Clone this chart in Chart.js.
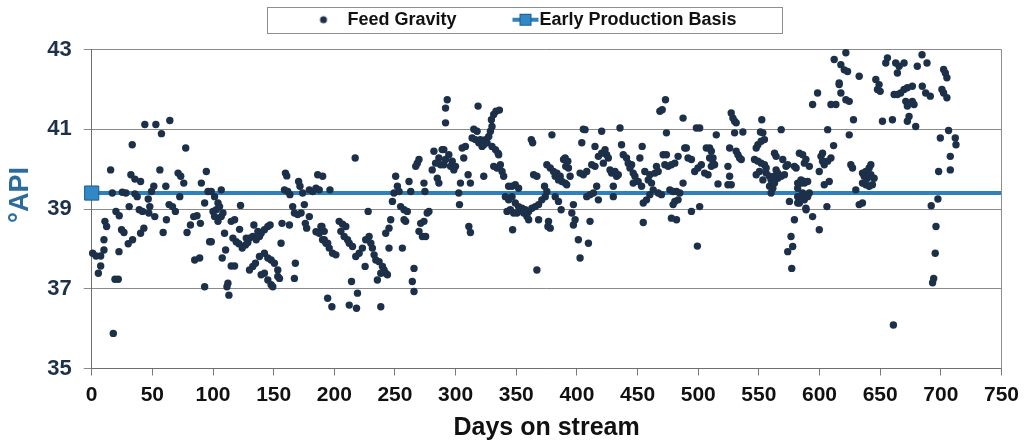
<!DOCTYPE html>
<html>
<head>
<meta charset="utf-8">
<script src="https://cdn.jsdelivr.net/npm/chart.js@4.4.1/dist/chart.umd.min.js"></script>
<style>
  html, body { margin: 0; padding: 0; background: #fff; }
  #wrap { width: 1026px; height: 445px; }
</style>
</head>
<body>
<div id="wrap"><canvas id="gravityChart" width="1026" height="445"></canvas></div>
<script>
// Feed gravity (°API), [day, value] pairs, by period
const feedDays0to100 = [
  [0.8,37.89],[3.6,37.82],[7.4,37.82],[5.5,37.39],[7.4,37.57],[10.1,37.97],[10.1,38.23],[10.9,38.69],[12.3,38.56],
  [15.6,39.98],[17.0,39.40],[17.8,35.88],[19.2,37.24],[21.9,37.24],[20.0,38.94],[22.7,38.83],[22.5,37.93],[24.6,38.48],
  [26.6,38.41],[25.2,39.42],[28.2,39.40],[30.1,38.13],[33.7,38.23],[30.9,39.06],[32.3,39.86],[35.6,39.75],[40.3,39.69],
  [33.4,40.61],[35.6,39.38],[37.5,39.31],[39.2,38.98],[41.9,38.94],[40.3,38.39],[43.0,38.52],[43.8,41.12],[52.9,41.12],
  [57.5,40.89],[46.6,39.25],[49.3,39.44],[51.2,39.57],[47.9,39.06],[47.1,38.90],[52.0,38.81],[56.2,39.98],[58.9,38.41],
  [61.1,39.57],[61.6,38.73],[63.8,39.11],[66.6,39.06],[69.0,38.94],[64.4,41.22],[71.2,39.90],[73.4,39.82],[75.9,39.65],
  [72.6,39.31],[77.5,40.53],[78.6,38.41],[81.4,38.60],[84.1,38.81],[86.8,38.83],[89.6,38.64],[84.9,37.72],[89.0,37.77],
  [90.4,39.65],[93.1,37.05],[94.5,39.94],[95.9,39.44],[93.1,39.15],[97.2,38.18]
];
const feedDays100to200 = [
  [98.6,39.44],[101.3,39.31],[106.8,39.48],[100.0,38.94],[102.7,38.98],[104.1,39.15],[105.4,39.06],[101.3,38.81],
  [104.1,38.69],[106.8,38.81],[108.2,38.90],[98.6,38.18],[109.5,38.39],[107.6,37.77],[110.4,37.97],[115.0,37.57],
  [117.8,37.57],[112.3,37.14],[111.5,37.05],[113.1,36.84],[115.0,38.69],[117.8,38.73],[116.4,38.27],[119.1,38.18],
  [121.3,38.13],[122.7,39.09],[121.9,38.49],[124.1,38.02],[126.8,38.10],[128.7,38.16],[130.1,37.47],[132.8,37.56],
  [135.0,37.64],[127.4,38.27],[130.1,38.27],[132.8,38.31],[135.6,38.23],[138.3,38.31],[133.7,38.60],[137.0,38.44],
  [139.7,38.39],[142.4,38.48],[145.2,38.56],[147.1,38.60],[138.3,37.81],[142.4,37.89],[145.2,37.77],[147.9,37.72],
  [150.6,37.64],[153.4,37.47],[139.7,37.35],[142.4,37.39],[145.2,37.22],[147.9,37.10],[149.3,37.05],[153.4,37.31],
  [154.8,37.26],[156.1,38.14],[156.9,38.64],[163.0,38.60],[159.7,39.90],[160.8,39.83],[158.9,39.48],[161.6,39.44],
  [163.4,39.36],[165.7,39.06],[167.1,38.90],[169.8,38.86],[172.6,38.90],[170.6,39.69],[171.7,39.57],[173.9,39.40],
  [175.3,39.11],[176.1,38.64],[177.2,38.52],[179.4,38.81],[167.9,37.64],[167.1,37.26],[179.4,39.48],[182.2,39.44],
  [184.9,39.52],[187.6,39.48],[186.3,39.86],[190.4,39.82],[184.9,38.43],[187.6,38.39],[189.8,38.56],[191.7,38.23],
  [194.5,38.14],[194.5,36.76]
];
const feedDays200to300 = [
  [196.4,39.48],[189.0,38.56],[191.7,38.44],[190.3,38.23],[193.1,38.14],[195.8,38.02],[198.6,37.89],[201.3,37.85],
  [198.0,36.55],[204.0,38.69],[206.8,38.62],[209.5,38.56],[205.4,38.44],[208.1,38.31],[210.9,38.23],[212.3,38.14],
  [215.0,38.06],[217.2,40.28],[217.7,37.81],[220.5,37.89],[223.2,38.02],[225.9,38.23],[228.7,38.31],[230.1,38.14],
  [231.4,38.02],[232.8,37.85],[234.2,37.72],[236.9,37.68],[239.7,37.56],[241.0,37.47],[242.4,37.39],[243.8,37.35],
  [238.3,37.39],[235.5,37.22],[225.4,37.56],[214.2,37.18],[219.1,36.89],[212.3,36.59],[218.3,36.51],[238.3,36.55],
  [227.9,38.94],[242.4,38.39],[245.1,38.52],[246.5,38.73],[245.1,38.02],[247.9,39.19],[249.2,39.40],[252.0,39.57],
  [253.4,39.44],[250.6,39.82],[254.7,39.06],[257.5,38.98],[260.2,38.94],[258.8,38.69],[257.5,38.73],[256.1,38.02],
  [261.6,39.69],[263.0,39.44],[265.7,37.51],[264.3,37.18],[265.7,36.93],[267.1,40.07],[268.4,40.15],[269.8,40.24],
  [269.8,38.44],[272.6,38.31],[275.3,38.31],[271.2,38.64],[273.9,38.69],[276.6,38.90],[278.0,38.94],[273.9,39.65],
  [274.7,39.44],[280.7,39.98],[283.5,40.15],[286.2,40.28],[284.9,39.77],[282.1,40.45],[287.6,40.11],[290.3,40.49],
  [291.7,41.16],[291.7,41.53],[293.1,41.74]
];
const feedDays300to400 = [
  [288.9,40.49],[291.7,40.24],[294.4,40.36],[297.2,40.20],[298.5,39.98],[299.9,40.07],[295.8,40.07],[290.3,40.11],
  [286.2,39.65],[302.6,39.40],[304.0,39.65],[303.2,39.11],[305.4,40.53],[308.1,40.57],[306.7,40.28],[310.3,39.86],
  [312.2,39.65],[310.9,38.56],[312.2,38.41],[315.0,41.00],[317.7,40.95],[313.6,40.78],[316.3,40.74],[319.1,40.66],
  [320.4,40.74],[321.8,40.57],[323.2,40.61],[318.5,41.58],[323.2,39.82],[324.6,40.74],[327.3,40.82],[328.7,40.95],
  [330.0,41.07],[329.5,41.24],[331.4,41.37],[333.3,41.45],[336.1,41.48],[325.9,40.66],[330.0,40.57],[332.8,40.49],
  [335.0,40.40],[331.4,40.07],[334.1,40.03],[336.9,40.11],[338.3,39.94],[339.6,39.82],[335.5,40.36],[343.7,39.57],
  [346.5,39.57],[349.2,39.61],[351.9,39.52],[341.0,39.31],[343.7,39.23],[346.5,39.31],[349.2,39.15],[351.9,39.06],
  [354.7,39.02],[357.4,38.98],[360.2,38.94],[362.9,39.02],[365.7,39.06],[368.4,39.11],[371.1,39.23],[342.4,38.94],
  [345.1,38.98],[347.8,38.90],[350.6,38.90],[353.3,38.98],[356.1,38.90],[358.8,38.81],[360.2,38.73],[347.0,38.48],
  [362.4,40.74],[363.5,40.66],[364.3,39.86],[367.0,39.82],[368.4,38.73],[376.6,38.69],[378.0,38.52],[376.1,38.56],
  [367.0,37.47],[373.3,39.57],[375.2,39.44],[373.9,39.31],[379.4,40.86],[375.2,40.11],[378.0,40.03],[380.7,39.94],
  [383.5,39.90],[386.2,39.82],[382.1,39.82],[384.8,39.73],[387.6,39.69],[390.3,39.65],[389.0,40.24],[382.1,39.31],
  [384.8,39.19],[387.0,38.98]
];
const feedDays400to500 = [
  [390.3,40.28],[392.5,40.20],[390.8,40.07],[393.0,40.03],[394.4,39.82],[391.6,39.61],[397.1,39.11],[395.8,38.90],
  [398.5,38.73],[397.1,38.60],[401.2,38.23],[409.5,38.14],[402.6,37.77],[410.8,38.69],[404.0,40.66],[405.3,41.00],
  [406.7,40.99],[402.6,39.90],[405.3,39.86],[408.1,39.94],[408.1,39.31],[410.8,39.36],[413.6,39.40],[416.3,39.57],
  [417.7,39.23],[414.9,40.57],[412.2,40.11],[414.9,40.07],[417.7,40.32],[420.4,40.40],[423.2,40.49],[424.5,40.36],
  [425.9,40.28],[421.8,40.15],[420.4,40.95],[427.3,39.98],[428.6,39.90],[431.4,39.94],[434.1,39.86],[432.7,39.82],
  [430.0,39.57],[430.0,39.31],[435.5,41.03],[436.8,40.61],[438.2,40.36],[440.9,40.28],[442.3,40.15],[445.1,40.11],
  [443.7,40.03],[446.4,39.90],[447.8,39.82],[446.4,39.65],[450.5,39.69],[453.3,39.57],[451.9,40.28],[453.8,40.57],
  [454.7,39.15],[457.4,39.23],[454.7,38.66],[456.0,39.94],[458.8,39.73],[461.5,39.65],[460.1,39.86],[464.3,39.90],
  [467.0,39.94],[465.6,40.07],[460.1,39.36],[462.9,39.48],[467.0,39.40],[469.7,39.36],[468.4,41.45],[470.3,41.49],
  [473.0,41.74],[473.8,40.91],[471.1,40.36],[473.8,40.36],[472.5,40.11],[475.2,40.07],[477.9,40.11],[480.7,40.15],
  [483.4,40.32],[476.6,39.48],[479.3,39.44],[482.1,39.44],[484.8,39.40],[480.7,39.19],[479.3,39.11],[483.4,39.23],
  [477.9,38.77],[482.1,38.73],[487.5,41.28],[488.9,40.53],[487.5,39.65]
];
const feedDays500to600 = [
  [490.2,40.53],[491.6,40.28],[494.4,40.24],[494.4,38.94],[501.2,39.06],[499.3,38.07],[498.5,41.03],[501.2,41.03],
  [497.1,39.94],[499.8,40.03],[502.6,40.11],[505.3,39.90],[508.1,39.86],[510.8,40.07],[512.2,40.15],[513.5,40.11],
  [506.7,40.53],[509.4,40.53],[510.8,40.45],[509.4,40.28],[512.2,40.28],[514.9,40.86],[516.3,39.63],[524.5,40.07],
  [525.9,39.82],[524.5,39.61],[527.2,39.61],[527.2,41.41],[528.6,41.28],[530.0,41.20],[531.3,41.16],[530.0,40.91],
  [536.8,40.93],[525.9,40.53],[531.3,40.45],[532.7,40.36],[534.1,40.28],[535.5,40.24],[546.4,40.24],[549.2,40.20],
  [551.9,40.15],[554.6,40.11],[556.0,40.03],[547.8,39.86],[550.5,39.94],[547.8,40.53],[549.2,40.61],[551.9,40.70],
  [554.6,40.74],[553.3,40.91],[551.3,40.93],[552.4,41.24],[553.3,39.73],[556.0,39.90],[558.8,39.82],[560.1,39.73],
  [562.9,39.82],[565.6,39.90],[564.2,39.98],[558.8,39.57],[561.5,39.52],[560.1,39.40],[562.9,39.65],[565.6,39.77],
  [568.4,39.82],[571.1,39.86],[562.9,40.40],[564.2,40.32],[568.4,40.99],[569.7,40.24],[572.4,40.07],[573.8,40.11],
  [575.2,39.19],[579.3,38.73],[576.5,38.31],[577.9,38.06],[573.8,37.93],[577.1,37.51],[579.3,40.07],[580.7,40.03],
  [582.0,39.52],[584.8,39.65],[587.5,39.69],[582.0,39.15],[586.1,39.31],[588.9,38.98]
];
const feedDays600to750 = [
  [583.4,40.40],[586.1,40.36],[588.8,40.24],[591.6,40.07],[587.5,40.15],[582.0,39.65],[584.7,39.73],[587.5,39.65],
  [590.2,39.69],[591.6,39.40],[586.1,39.40],[582.0,39.31],[583.4,39.15],[587.5,39.23],[588.8,39.02],[590.2,39.31],
  [594.3,38.81],[599.8,38.48],[599.8,39.94],[602.5,40.20],[601.2,40.32],[603.9,40.11],[606.7,40.20],[609.4,40.28],
  [602.5,40.40],[603.9,39.61],[608.0,39.69],[606.1,39.06],[606.7,40.99],[611.6,40.59],[594.3,41.62],[598.4,41.91],
  [609.4,41.62],[613.5,41.62],[612.1,42.75],[616.2,42.16],[617.6,42.62],[620.4,42.49],[621.7,42.92],[623.1,42.45],
  [616.2,42.12],[617.6,41.91],[621.7,41.74],[624.5,41.70],[628.0,41.24],[624.5,40.86],[625.8,40.11],[627.2,40.03],
  [629.9,39.48],[632.7,39.11],[635.4,39.15],[632.7,42.33],[635.4,39.90],[638.2,39.94],[640.9,40.03],[636.8,39.82],
  [639.5,39.77],[642.3,39.86],[635.4,39.65],[638.2,39.61],[640.9,39.57],[643.6,39.61],[645.0,39.77],[642.3,40.11],
  [660.9,36.09],[646.4,42.25],[647.8,42.00],[650.0,41.95],[649.1,42.12],[651.9,41.20],[654.6,42.66],[656.0,42.79],
  [660.1,41.24],[661.5,41.87],[664.2,41.87],[666.9,41.91],[669.7,42.00],[672.4,42.04],[676.5,42.08],[664.2,42.41],
  [665.6,42.58],[662.8,42.66],[669.7,42.66],[671.1,41.70],[672.4,41.58],[676.5,41.70],[677.9,41.62],[679.3,41.07],
  [673.8,41.32],[672.4,41.20],[680.6,42.58],[684.7,42.08],[687.5,41.91],[691.3,41.83],[684.5,42.87],[688.6,42.66],
  [702.3,42.50],[703.7,42.41],[705.0,42.29],[700.9,42.00],[702.3,41.91],[705.0,41.79],[706.4,40.97],[711.9,40.78],
  [712.5,40.61],[699.6,40.78],[707.8,40.32],[707.8,39.98],[698.2,39.94],[697.6,39.25],[692.1,39.08],[696.0,38.56],
  [695.4,37.89],[694.1,37.26],[693.2,37.15]
];

// Early production basis (flat reference line)
const basisDays = [0, 750];
const basisApi = [39.4, 39.4];

const dotColor = '#1d3049';
const lineColor = '#2f80bd';
const markerFill = '#3188c6';
const markerEdge = '#1d5a8a';
const fontFamily = "'Liberation Sans', Arial, sans-serif";

const feedPoints = [].concat(feedDays0to100, feedDays100to200, feedDays200to300,
  feedDays300to400, feedDays400to500, feedDays500to600, feedDays600to750)
  .map(p => ({ x: p[0], y: p[1] }));

// Legend glyphs
function dotGlyph() {
  const c = document.createElement('canvas');
  c.width = 10; c.height = 10;
  const g = c.getContext('2d');
  g.fillStyle = dotColor;
  g.beginPath(); g.arc(5, 5, 3.5, 0, Math.PI * 2); g.fill();
  return c;
}
function lineGlyph() {
  // wider than the legend box so the line runs right up to the text
  const c = document.createElement('canvas');
  c.width = 48; c.height = 14;
  const g = c.getContext('2d');
  g.fillStyle = lineColor;
  g.fillRect(21, 5, 26, 4);
  g.fillStyle = markerFill;
  g.fillRect(28, 1, 12, 12);
  g.strokeStyle = markerEdge;
  g.lineWidth = 1;
  g.strokeRect(28.5, 1.5, 11, 11);
  return c;
}
const glyphs = [dotGlyph(), lineGlyph()];

// Legend placement, legend frame, right border, y title
const framePlugin = {
  id: 'frame',
  beforeInit(chart) {
    const lg = chart.legend;
    if (!lg) return;
    const fit = lg.fit;
    lg.fit = function () { fit.call(this); this.height = 49.5; };
  },
  afterLayout(chart) {
    const lg = chart.legend;
    if (!lg) return;
    lg.left = 263; lg.right = 782; lg.top = 20 - 44 - 10.8 + 1.5;
  },
  afterDraw(chart) {
    const ctx = chart.ctx, a = chart.chartArea;
    ctx.save();
    ctx.strokeStyle = '#8e8e8e';
    ctx.lineWidth = 1;
    ctx.strokeRect(267.5, 7.5, 515, 26);
    const xr = Math.round(a.right) + 0.5;
    ctx.beginPath(); ctx.moveTo(xr, a.top); ctx.lineTo(xr, a.bottom); ctx.stroke();

    ctx.translate(21, 195);
    ctx.rotate(-Math.PI / 2);
    ctx.fillStyle = '#2c6c9c';
    ctx.font = 'bold 27px ' + fontFamily;
    ctx.textAlign = 'center';
    ctx.textBaseline = 'middle';
    ctx.fillText('°API', 0, 0);
    ctx.restore();
  }
};

Chart.defaults.font.family = fontFamily;

new Chart(document.getElementById('gravityChart'), {
  type: 'scatter',
  data: {
    datasets: [{
      label: 'Feed Gravity',
      data: feedPoints,
      backgroundColor: dotColor,
      borderColor: dotColor,
      pointRadius: 3.7,
      borderWidth: 0,
      clip: false,
      order: 1
    }, {
      type: 'line',
      label: 'Early Production Basis',
      data: basisDays.map((d, i) => ({ x: d, y: basisApi[i] })),
      borderColor: lineColor,
      borderWidth: 4,
      pointStyle: 'rect',
      pointRadius: [10, 0],
      pointBackgroundColor: markerFill,
      pointBorderColor: markerEdge,
      pointBorderWidth: 1,
      clip: false,
      order: 2
    }]
  },
  options: {
    responsive: false,
    animation: false,
    layout: { padding: { left: 0, right: 24, top: 0, bottom: 0 } },
    plugins: {
      tooltip: { enabled: false },
      legend: {
        position: 'top',
        labels: {
          usePointStyle: true,
          pointStyleWidth: 30,
          padding: 44,
          color: '#111',
          font: { size: 18, weight: 'bold' },
          generateLabels: () => [
            { text: 'Feed Gravity', pointStyle: glyphs[0], datasetIndex: 0, hidden: false,
              fillStyle: 'transparent', strokeStyle: 'transparent', lineWidth: 0, fontColor: '#111' },
            { text: 'Early Production Basis', pointStyle: glyphs[1], datasetIndex: 1, hidden: false,
              fillStyle: 'transparent', strokeStyle: 'transparent', lineWidth: 0, fontColor: '#111' }
          ]
        }
      }
    },
    scales: {
      x: {
        type: 'linear',
        min: 0,
        max: 750,
        afterFit: s => { s.height = 76.5; },
        ticks: { stepSize: 50, padding: 7, color: '#111', font: { size: 21, weight: 'bold' } },
        grid: { drawOnChartArea: false, drawTicks: true, tickLength: 7, color: '#7a7a7a' },
        border: { display: true, color: '#6e6e6e', width: 1 },
        title: { display: true, text: 'Days on stream', color: '#111',
          font: { size: 25, weight: 'bold' }, padding: { top: 0, bottom: 2 } }
      },
      y: {
        min: 35,
        max: 43,
        afterFit: s => { s.width = 91.7; },
        ticks: { stepSize: 2, padding: 12, color: '#1f3149', font: { size: 22, weight: 'bold' } },
        grid: { color: '#8a8a8a', tickLength: 8, lineWidth: 1 },
        border: { display: true, color: '#6e6e6e', width: 1 },
        title: { display: false, text: '°API' }
      }
    }
  },
  plugins: [framePlugin]
});
</script>
</body>
</html>
